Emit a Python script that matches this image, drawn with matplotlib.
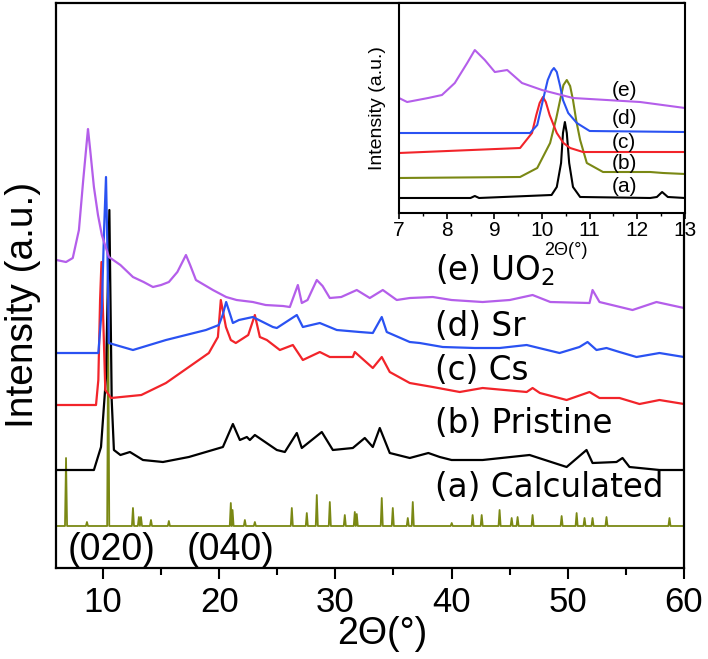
import matplotlib
matplotlib.use("Agg")
import matplotlib.pyplot as plt
import numpy as np

plt.rcParams['font.family'] = ['Liberation Sans', 'DejaVu Sans']
plt.rcParams['mathtext.fontset'] = 'dejavusans'

# ---------------- main panel data (2theta in deg, intensity a.u. incl. offset) ----------------
e_x = [6.0, 6.82, 7.4, 7.93, 8.3, 8.62, 8.71, 8.9, 9.22, 9.57, 9.9, 10.51, 11.5, 12.58, 13.5, 14.3,
       15.0, 15.67, 16.4, 17.14, 17.5, 18.0, 19.46, 20.6, 21.5, 22.9, 24.0, 25.5, 26.08, 26.77, 27.11,
       27.6, 28.4, 28.9, 29.52, 30.5, 31.84, 32.96, 34.08, 35.28, 36.4, 38.38, 40.0, 42.67, 45.0,
       46.97, 48.5, 51.87, 52.13, 52.73, 55.57, 57.63, 60.0]
e_y = [308, 306, 310, 338, 388, 428, 439, 418, 381, 353, 333, 311, 303, 291, 286, 281,
       283, 286, 296, 313, 303, 288, 278, 271, 268, 266, 263, 262, 261, 283, 265,
       268, 288, 282, 270, 271, 278, 270, 278, 268, 270, 271, 268, 266, 268,
       273, 266, 265, 278, 266, 258, 266, 260]

d_x = [6.0, 9.6, 9.9, 10.1, 10.26, 10.38, 10.5, 12.58, 15.42, 18.86, 19.97, 20.3, 20.6, 21.18, 21.7,
       22.9, 24.62, 24.96, 26.68, 27.2, 28.66, 30.12, 32.1, 33.22, 33.99, 34.42, 36.4, 37.26, 39.24,
       42.0, 44.13, 46.46, 49.29, 51.0, 51.7, 52.47, 53.33, 54.45, 55.91, 57.89, 60.0]
d_y = [215, 215, 260, 340, 391, 320, 225, 218, 228, 238, 243, 253, 266, 245, 248,
       251, 241, 240, 253, 241, 245, 238, 236, 235, 251, 236, 226, 225, 221,
       220, 220, 223, 215, 221, 226, 218, 220, 216, 211, 215, 211]

c_x = [6.0, 9.4, 9.6, 9.75, 9.87, 10.05, 10.2, 10.69, 13.3, 15.42, 17.39, 19.11, 19.89, 20.14, 20.58,
       21.0, 21.43, 22.5, 23.07, 23.5, 24.1, 25.22, 26.34, 27.2, 28.66, 29.52, 31.5, 31.67, 33.22,
       33.99, 34.68, 36.4, 38.38, 40.7, 42.67, 46.46, 46.97, 47.6, 49.9, 51.87, 52.73, 54.45, 56.17,
       57.89, 60.0]
c_y = [163, 163, 188, 268, 306, 238, 178, 170, 173, 185, 201, 215, 231, 268, 241,
       228, 225, 233, 253, 231, 228, 218, 223, 208, 216, 211, 211, 216, 200,
       211, 196, 185, 181, 176, 180, 176, 180, 175, 168, 176, 170, 170, 164,
       168, 164]

b_x = [6.0, 9.22, 9.83, 10.26, 10.55, 10.75, 10.94, 11.5, 12.32, 13.44, 15.16, 17.39, 20.32, 21.18,
       21.78, 22.38, 22.64, 23.07, 24.96, 25.65, 26.68, 27.11, 28.83, 29.78, 31.5, 32.53, 33.22,
       33.82, 34.68, 36.4, 38.0, 38.98, 40.0, 42.67, 46.71, 49.9, 51.61, 52.13, 54.19, 54.71, 55.31,
       57.89, 60.0]
b_y = [98, 98, 121, 191, 358, 168, 118, 113, 116, 108, 106, 111, 121, 144,
       128, 131, 128, 133, 118, 116, 135, 120, 136, 118, 120, 130, 121,
       140, 115, 110, 115, 111, 108, 108, 113, 101, 118, 105, 106, 110, 101,
       98, 98]

a_base = 42
a_peaks = [6.82, 8.62, 10.45, 12.58, 13.09, 13.27, 14.13, 15.67, 21.0, 21.15, 22.21, 23.07, 26.25,
           27.54, 28.4, 29.52, 30.81, 31.67, 31.84, 33.99, 34.94, 36.23, 36.66, 40.01, 41.81,
           42.59, 44.13, 45.17, 45.68, 46.97, 49.47, 50.76, 51.44, 52.13, 53.33, 58.75]
a_heights = [110, 46, 248, 60, 51, 51, 48, 47, 65, 58, 48, 46, 60,
             55, 73, 66, 53, 56, 54, 70, 60, 50, 66, 45, 53,
             53, 58, 50, 51, 53, 52, 55, 50, 50, 51, 50]

# ---------------- inset data ----------------
ie_x = [7.0, 7.17, 7.61, 7.9, 8.17, 8.43, 8.59, 8.8, 9.01, 9.27, 9.58, 10.0, 10.65, 11.36, 12.06, 13.0]
ie_y = [115, 111, 115, 118, 130, 150, 163, 153, 141, 143, 130, 123, 115, 113, 111, 105]

id_x = [7.0, 9.75, 9.9, 10.02, 10.12, 10.2, 10.25, 10.31, 10.38, 10.44, 10.55, 10.73, 11.0, 13.0]
id_y = [80, 80, 88, 113, 133, 142, 145, 141, 127, 113, 100, 90, 82, 81]

ic_x = [7.0, 9.54, 9.79, 9.88, 9.95, 10.02, 10.08, 10.16, 10.31, 10.45, 10.59, 10.86, 13.0]
ic_y = [60, 65, 80, 98, 110, 116, 111, 98, 80, 70, 65, 61, 61]

ib_x = [7.0, 9.54, 9.9, 10.17, 10.3, 10.38, 10.45, 10.52, 10.59, 10.65, 10.72, 10.8, 10.94, 11.28,
        12.27, 12.54, 13.0]
ib_y = [35, 36, 45, 70, 95, 113, 128, 133, 127, 113, 92, 73, 50, 41, 41, 40, 39]

ia_x = [7.0, 8.5, 8.59, 8.68, 10.2, 10.31, 10.4, 10.44, 10.48, 10.52, 10.57, 10.65, 10.8, 12.27,
        12.41, 12.52, 12.64, 13.0]
ia_y = [15, 15, 17, 15, 18, 26, 50, 80, 91, 80, 50, 26, 16, 15, 16, 21, 16, 15]

main_labels = ["(e) UO$_2$", "(d) Sr", "(c) Cs", "(b) Pristine", "(a) Calculated"]
main_label_y = [288, 232, 188, 135, 71]
inset_labels = ["(e)", "(d)", "(c)", "(b)", "(a)"]
inset_label_y = [123, 95, 71, 49, 26]
hkl_labels = ["(020)", "(040)"]
hkl_x = [10.77, 21.0]

PURPLE = "#B45EEA"
BLUE = "#2A52F2"
RED = "#F2242A"
BLACK = "#000000"
OLIVE = "#7A8814"

fig = plt.figure(figsize=(7.08, 6.59), dpi=100)
ax = fig.add_axes([0.0798, 0.1381, 0.8863, 0.8573])

# calculated pattern as narrow peaks on a baseline
ax_x = [6.0]
ax_y = [a_base]
for p, h in zip(a_peaks, a_heights):
    ax_x += [p - 0.09, p, p + 0.09]
    ax_y += [a_base, h, a_base]
ax_x.append(60.0)
ax_y.append(a_base)

lw = 1.6
ax.plot(ax_x, ax_y, color=OLIVE, lw=1.3)
ax.plot(b_x, b_y, color=BLACK, lw=lw)
ax.plot(c_x, c_y, color=RED, lw=lw)
ax.plot(d_x, d_y, color=BLUE, lw=lw)
ax.plot(e_x, e_y, color=PURPLE, lw=lw)

ax.set_xlim(6, 60)
ax.set_ylim(0, 565)
ax.set_yticks([])
ax.set_xticks([10, 20, 30, 40, 50, 60])
ax.set_xticks([15, 25, 35, 45, 55], minor=True)
ax.tick_params(axis='x', which='major', direction='out', length=8, width=1.5,
               labelsize=25, pad=5)
ax.tick_params(axis='x', which='minor', direction='out', length=5, width=1.5)
for s in ax.spines.values():
    s.set_linewidth(1.6)

ax.set_xlabel("2Θ(°)", fontsize=27)
ax.xaxis.set_label_coords(0.519, -0.085)
ax.set_ylabel("Intensity (a.u.)", fontsize=28)
ax.yaxis.set_label_coords(-0.024, 0.465)

for t, y in zip(main_labels, main_label_y):
    ax.text(38.55, y, t, fontsize=23.5, family=['DejaVu Sans'], ha='left', va='baseline')
for t, x in zip(hkl_labels, hkl_x):
    ax.text(x, 8, t, fontsize=27, ha='center', va='baseline')

# ---------------- inset ----------------
ins = fig.add_axes([0.5636, 0.6768, 0.4039, 0.3186])
ins.plot(ia_x, ia_y, color=BLACK, lw=1.5)
ins.plot(ib_x, ib_y, color=OLIVE, lw=1.5)
ins.plot(ic_x, ic_y, color=RED, lw=1.5)
ins.plot(id_x, id_y, color=BLUE, lw=1.5)
ins.plot(ie_x, ie_y, color=PURPLE, lw=1.5)
ins.set_xlim(7, 13)
ins.set_ylim(0, 210)
ins.set_yticks([])
ins.set_xticks([7, 8, 9, 10, 11, 12, 13])
ins.set_xticks([7.5, 8.5, 9.5, 10.5, 11.5, 12.5], minor=True)
ins.tick_params(axis='x', which='major', direction='out', length=4, width=1.2,
                labelsize=15, pad=2)
ins.tick_params(axis='x', which='minor', direction='out', length=2.5, width=1.0)
for s in ins.spines.values():
    s.set_linewidth(1.5)
ins.set_xlabel("2Θ(°)", fontsize=13)
ins.xaxis.set_label_coords(0.584, -0.14)
ins.set_ylabel("Intensity (a.u.)", fontsize=14)
ins.yaxis.set_label_coords(-0.045, 0.5)
for t, y in zip(inset_labels, inset_label_y):
    ins.text(11.47, y, t, fontsize=15, ha='left', va='center')

fig.savefig("out.png", dpi=100)
